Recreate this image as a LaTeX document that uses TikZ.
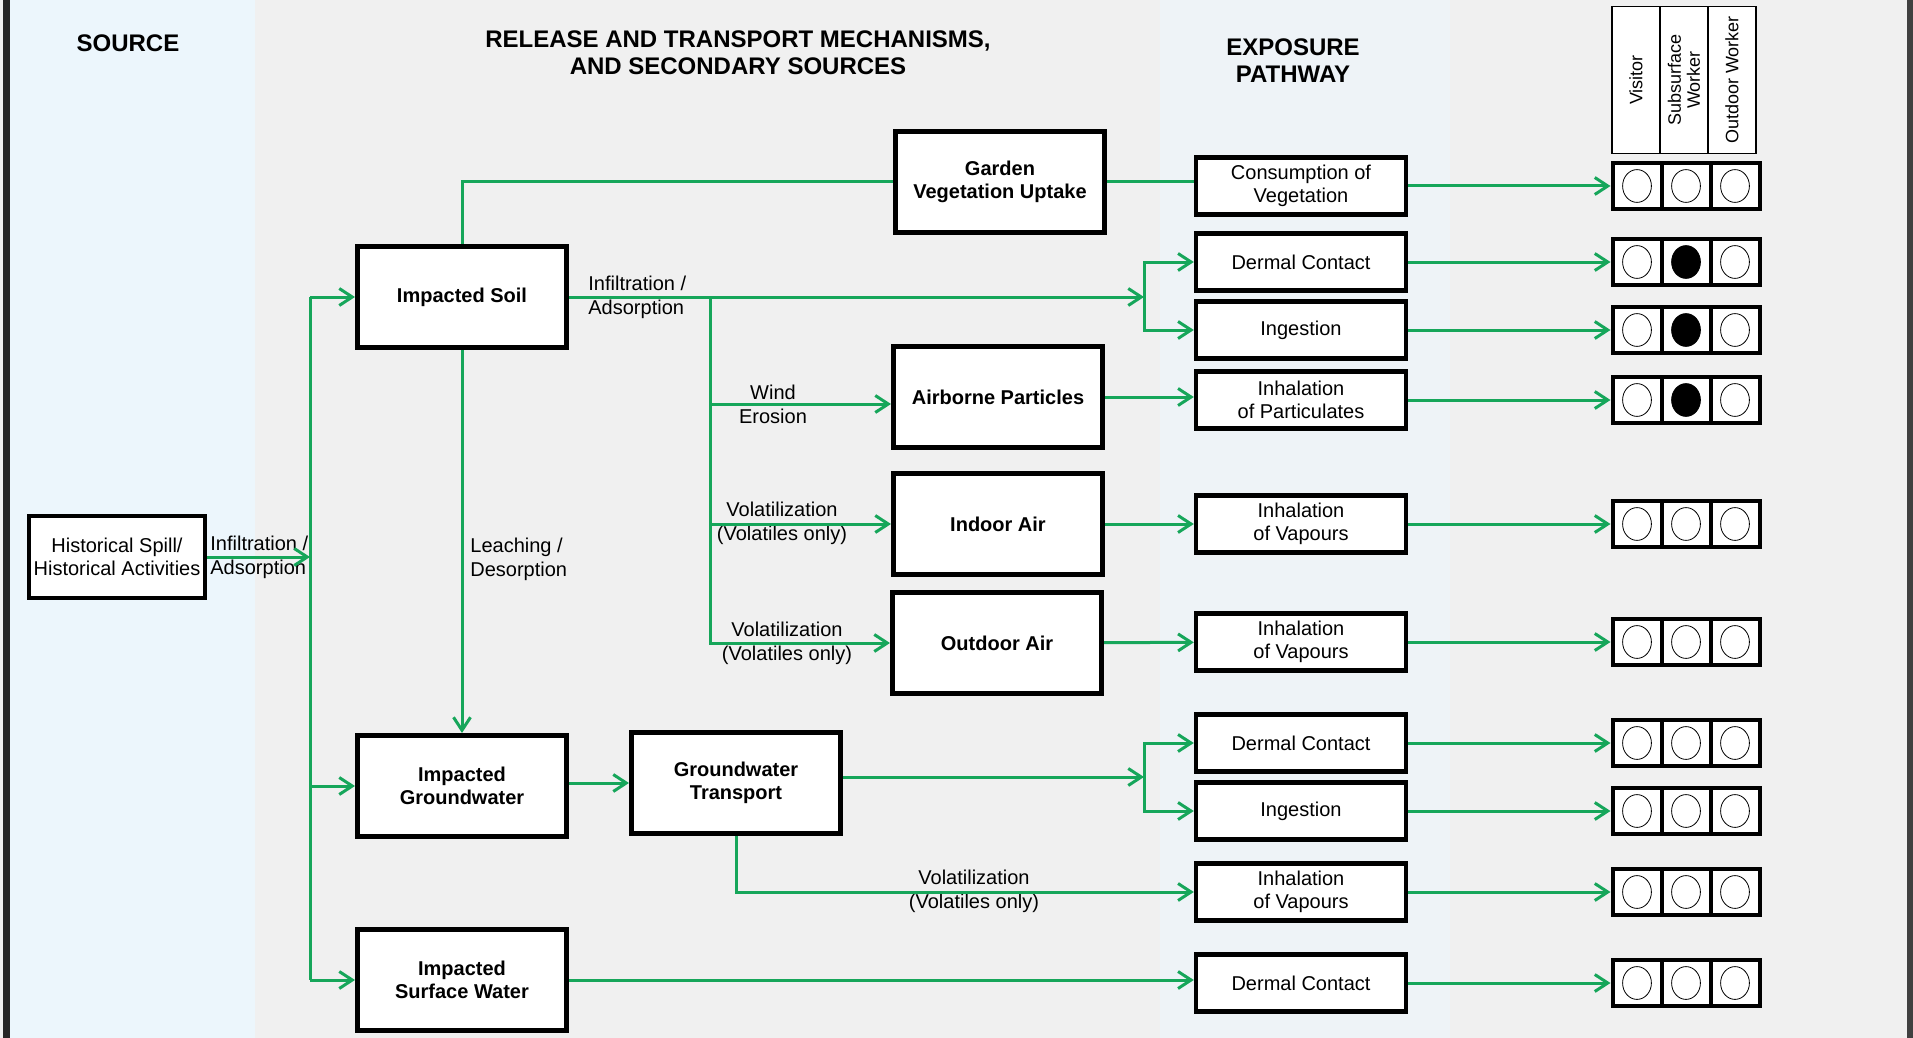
\documentclass[tikz,border=0pt]{standalone}
\usepackage{fontspec}
\setmainfont{Liberation Sans}
\usetikzlibrary{arrows.meta}
\definecolor{csmGreen}{RGB}{22,166,90}
\definecolor{csmBack}{RGB}{240,240,240}
\definecolor{csmBlue}{RGB}{236,246,252}

\begin{document}
\begin{tikzpicture}[x=0.5pt, y=-0.5pt,
    csmBox/.style={draw, line width=2.5pt, fill=white, minimum width=104.5pt, minimum height=50.5pt, align=center, font=\fontsize{10}{11.5}\selectfont\bfseries},
    csmSrc/.style={draw, line width=2.2pt, fill=white, minimum width=88pt, minimum height=41pt, align=center, inner sep=1pt, font=\fontsize{10}{11.5}\selectfont},
    csmPath/.style={draw, line width=2.2pt, fill=white, minimum width=105pt, minimum height=28.5pt, align=center, inner sep=1pt, font=\fontsize{10}{11.5}\selectfont},
    csmCell/.style={draw, line width=2pt, fill=white, minimum width=24.5pt, minimum height=23pt, inner sep=0pt},
    csmHead/.style={draw, line width=0.7pt, fill=white, rotate=90, minimum width=73.5pt, minimum height=24pt, align=center, inner sep=1pt, font=\fontsize{9}{9.5}\selectfont},
    csmTitle/.style={align=center, font=\fontsize{12}{13.5}\selectfont\bfseries},
    csmLabel/.style={inner sep=0pt, font=\fontsize{10}{12}\selectfont},
    csmFlow/.style={draw=csmGreen, line width=1.5pt},
    csmArrow/.style={csmFlow, -{Straight Barb[length=6.5pt, width=8.5pt, line width=1.5pt]}}]

    % background bands
    \fill[csmBack] (0,0) rectangle (1913,1038);
    \fill[csmBlue] (10,0) rectangle (255,1038);
    \fill[csmBlue!55!csmBack] (1160,0) rectangle (1450,1038);
    \fill[black!85] (3,0) rectangle (10,1038);
    \fill[black!75] (1907,0) rectangle (1913,1038);
    \useasboundingbox (0,0) rectangle (1913,1038);

    \node[csmTitle] (tSource) at (128,43) {SOURCE};
    \node[csmTitle] (tRelease) at (738,53) {RELEASE AND TRANSPORT MECHANISMS,\\AND SECONDARY SOURCES};
    \node[csmTitle] (tExposure) at (1293,61) {EXPOSURE\\PATHWAY};

    % sources and secondary sources
    \node[csmSrc] (hist) at (117,557) {Historical Spill/\\Historical Activities};
    \node[csmBox] (soil) at (462,297) {Impacted Soil};
    \node[csmBox] (ig) at (462,786) {Impacted\\Groundwater};
    \node[csmBox] (isw) at (462,980) {Impacted\\Surface Water};
    \node[csmBox] (garden) at (1000,182) {Garden\\Vegetation Uptake};
    \node[csmBox] (airp) at (998,397) {Airborne Particles};
    \node[csmBox] (inair) at (998,524) {Indoor Air};
    \node[csmBox] (outair) at (997,643) {Outdoor Air};
    \node[csmBox] (gwt) at (736,783) {Groundwater\\Transport};

    % exposure pathways
    \node[csmPath] (cons) at (1301,186) {Consumption of\\Vegetation};
    \node[csmPath] (dcA) at (1301,262) {Dermal Contact};
    \node[csmPath] (ingA) at (1301,330) {Ingestion};
    \node[csmPath] (inhP) at (1301,400) {Inhalation\\of Particulates};
    \node[csmPath] (inhVA) at (1301,524) {Inhalation\\of Vapours};
    \node[csmPath] (inhVB) at (1301,642) {Inhalation\\of Vapours};
    \node[csmPath] (dcB) at (1301,743) {Dermal Contact};
    \node[csmPath] (ingB) at (1301,811) {Ingestion};
    \node[csmPath] (inhVC) at (1301,892) {Inhalation\\of Vapours};
    \node[csmPath] (dcC) at (1301,983) {Dermal Contact};

    % receptors
    \node[csmHead] (hVisitor) at (1636,80) {Visitor};
    \node[csmHead] (hSubsurf) at (1684,80) {Subsurface\\Worker};
    \node[csmHead] (hOutdoor) at (1732,80) {Outdoor Worker};

    \foreach \p/\y/\c in {cons/186/white, dcA/262/black, ingA/330/black, inhP/400/black,
        inhVA/524/white, inhVB/642/white, dcB/743/white, ingB/811/white, inhVC/892/white, dcC/983/white} {
        \node[csmCell] (\p-1) at (1637,\y) {};
        \node[csmCell] (\p-2) at (1686,\y) {};
        \node[csmCell] (\p-3) at (1735,\y) {};
        \draw[thin] (\p-1) ellipse [x radius=7.2pt, y radius=8.2pt];
        \filldraw[thin, fill=\c] (\p-2) ellipse [x radius=7.2pt, y radius=8.2pt];
        \draw[thin] (\p-3) ellipse [x radius=7.2pt, y radius=8.2pt];
        \draw[csmArrow] (\p) -- (\p-1);
    }

    \node[csmLabel, anchor=west, align=left] (lInfA) at (210,557) {Infiltration /\\Adsorption};
    \node[csmLabel, anchor=west, align=left] (lInfB) at (588,297) {Infiltration /\\Adsorption};
    \node[csmLabel, anchor=west, align=left] (lLeach) at (470,559) {Leaching /\\Desorption};
    \node[csmLabel, align=center] (lWind) at (773,404) {Wind\\Erosion};
    \node[csmLabel, align=center] (lVolA) at (782,523) {Volatilization\\(Volatiles only)};
    \node[csmLabel, align=center] (lVolB) at (787,643) {Volatilization\\(Volatiles only)};
    \node[csmLabel, align=center] (lVolC) at (974,891) {Volatilization\\(Volatiles only)};

    \coordinate (srcBus) at (310,557);
    \coordinate (airBus) at (710,297);
    \coordinate (splA) at (1144,297);
    \coordinate (splB) at (1144,777);

    \draw[csmArrow] (hist) -- (hist -| srcBus);
    \draw[csmFlow] (srcBus |- soil) -- (srcBus |- isw);
    \draw[csmArrow] (srcBus |- soil) -- (soil);
    \draw[csmArrow] (srcBus |- ig) -- (ig);
    \draw[csmArrow] (srcBus |- isw) -- (isw);

    \draw[csmFlow] (soil) |- (garden);
    \draw[csmArrow] (soil) -- (ig);
    \draw[csmArrow] (soil) -- (splA);
    \draw[csmArrow] (splA) |- (dcA);
    \draw[csmArrow] (splA) |- (ingA);
    \draw[csmArrow] (airBus) |- (outair);
    \draw[csmArrow] (airBus |- lWind) -- (lWind -| airp.west);
    \draw[csmArrow] (airBus |- inair) -- (inair);

    \draw[csmFlow] (garden) -- (garden -| cons.west);
    \draw[csmArrow] (airp) -- (airp -| inhP.west);
    \draw[csmArrow] (inair) -- (inhVA);
    \draw[csmArrow] (outair) -- (inhVB);

    \draw[csmArrow] (ig.east |- gwt) -- (gwt);
    \draw[csmArrow] (gwt.east |- splB) -- (splB);
    \draw[csmArrow] (splB) |- (dcB);
    \draw[csmArrow] (splB) |- (ingB);
    \draw[csmArrow] (gwt) |- (inhVC);
    \draw[csmArrow] (isw) -- (isw -| dcC.west);
\end{tikzpicture}
\end{document}
